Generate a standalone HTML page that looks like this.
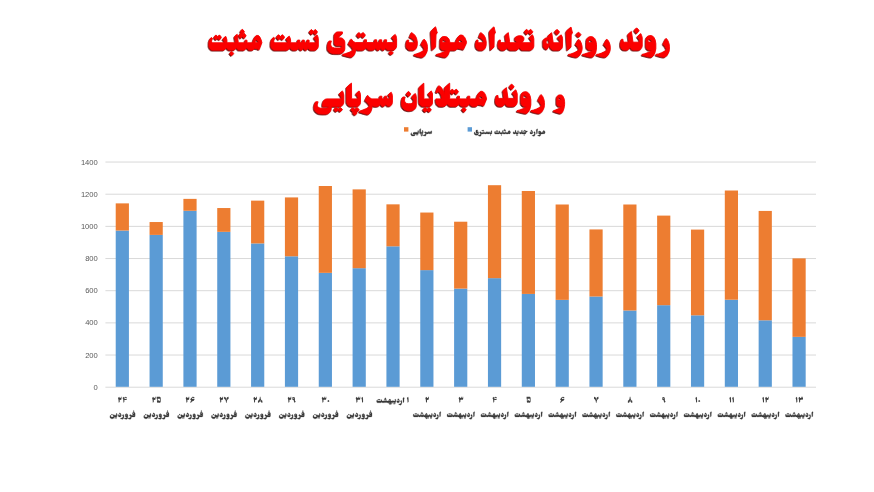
<!DOCTYPE html>
<html lang="fa"><head><meta charset="utf-8"><title>chart</title><style>
html,body{margin:0;padding:0;background:#fff}
body{width:874px;height:492px;position:relative;overflow:hidden;font-family:"Liberation Sans",sans-serif}
.yl{position:absolute;left:40px;width:57.8px;text-align:right;font-size:7.6px;line-height:12px;color:#595959;opacity:.999;will-change:opacity}
svg{position:absolute;left:0;top:0}
</style></head><body>
<svg width="874" height="492" viewBox="0 0 874 492">
<defs>
<filter id="sh" x="-5%" y="-20%" width="110%" height="140%"><feDropShadow dx="-0.8" dy="0.9" stdDeviation="0.35" flood-color="#6a0000" flood-opacity="1"/></filter>
<path id="fv" d="M-8.07 0.88 -8.07 1.00 -7.53 1.52 -7.40 1.52 -6.92 1.06 -6.41 1.52 -6.28 1.52 -5.70 1.00 -5.70 0.88 -6.28 0.35 -6.41 0.35 -6.89 0.82 -7.40 0.35 -7.53 0.35ZM0.59 -2.63 -0.24 -1.40 0.50 -0.57 0.63 -0.29 0.56 -0.02 0.18 0.35 -0.59 0.85 -1.62 1.31 -2.17 1.43 -2.20 1.65 -1.17 2.05 -0.11 2.33 0.37 2.20 0.82 1.74 1.40 0.32 1.49 -0.88 1.27 -1.74 0.92 -2.33ZM-10.61 -2.97 -11.16 -2.45 -11.16 -2.33 -10.51 -1.80 -9.94 -2.33 -9.94 -2.45 -10.48 -2.97ZM3.71 -3.25 3.13 -3.06 2.81 -2.66 2.71 -2.36 2.71 -0.69 2.94 -0.29 3.26 -0.08 4.41 0.05 3.61 0.66 1.62 1.43 1.62 1.65 3.45 2.23 4.22 2.29 4.67 1.89 5.12 0.91 5.35 -0.14 5.38 -1.40 5.22 -2.20 4.83 -2.88 4.35 -3.19ZM3.23 -2.26 3.42 -2.48 3.71 -2.48 4.54 -1.80 3.45 -1.80 3.23 -2.02ZM-5.67 -3.65 -6.66 -2.97 -6.08 -2.29 -5.99 -1.77 -7.91 -1.77 -8.33 -2.08 -8.52 -2.57 -9.68 -1.68 -9.13 -0.94 -9.07 -0.60 -9.33 -0.29 -9.71 -0.11 -10.84 -0.05 -11.38 -0.23 -11.64 -0.45 -11.77 -0.72 -11.77 -1.16 -11.57 -1.68 -12.22 -1.68 -12.47 -1.22 -12.63 -0.60 -12.60 0.23 -12.31 0.91 -11.93 1.31 -11.45 1.59 -10.80 1.74 -9.81 1.71 -9.17 1.49 -8.65 1.06 -8.36 0.45 -8.30 -0.32 -7.66 -0.02 -6.28 -0.02 -5.83 -0.17 -5.47 -0.51 -5.31 -0.88 -5.31 -2.85ZM-2.91 -4.17 -3.39 -3.10 -2.33 -2.48 -2.07 -2.20 -1.94 -1.83 -3.32 -1.77 -3.64 -2.02 -3.64 -2.42 -4.03 -2.42 -4.32 -1.56 -4.32 -1.00 -4.16 -0.54 -3.84 -0.20 -3.32 -0.02 -2.33 -0.02 -1.85 -0.20 -1.46 -0.66 -1.27 -1.40 -1.30 -2.17 -1.46 -2.76 -1.81 -3.40 -2.42 -3.96ZM12.18 -4.45 11.51 -4.82 10.68 -4.79 10.23 -4.48 10.00 -3.99 9.97 -2.76 10.16 -2.29 10.58 -2.08 11.80 -2.08 11.93 -1.96 11.86 -1.80 8.81 -1.77 8.27 -2.05 7.63 -2.63 6.89 -1.40 8.01 -0.48 8.14 -0.26 8.11 0.02 7.34 0.63 5.31 1.43 5.28 1.65 7.11 2.23 7.85 2.29 8.24 2.02 8.59 1.43 8.88 0.39 8.94 -0.32 9.52 -0.02 11.83 -0.02 12.22 -0.17 12.44 -0.39 12.63 -0.88 12.63 -3.53 12.47 -4.05ZM10.51 -3.87 10.68 -4.05 10.96 -4.08 11.35 -3.87 11.80 -3.40 10.80 -3.37 10.55 -3.53ZM11.12 -6.45 10.58 -5.93 10.58 -5.81 11.12 -5.28 11.25 -5.28 11.83 -5.90 11.25 -6.45Z"/>
<path id="ob" d="M2.86 0.88 2.86 1.00 3.35 1.52 3.46 1.52 3.90 1.06 4.36 1.52 4.47 1.52 4.99 1.00 4.99 0.88 4.47 0.35 4.36 0.35 3.93 0.82 3.46 0.35 3.35 0.35ZM1.13 0.35 0.64 0.88 0.64 1.00 1.13 1.52 1.24 1.52 1.73 1.00 1.73 0.88 1.24 0.35ZM10.65 -2.63 9.90 -1.40 10.57 -0.57 10.68 -0.29 10.62 -0.02 10.28 0.35 9.58 0.85 8.66 1.31 8.17 1.43 8.14 1.65 9.96 2.33 10.45 2.20 10.85 1.74 11.37 0.32 11.46 -0.88 11.26 -1.74 10.94 -2.33ZM5.34 -2.85 4.99 -3.68 4.13 -2.97 4.65 -2.29 4.73 -1.77 2.83 -1.77 2.71 -1.89 2.71 -2.42 2.17 -2.42 2.17 -1.89 2.02 -1.77 0.14 -1.77 0.26 -2.20 0.17 -2.91 -0.26 -3.68 -0.58 -3.68 -1.13 -3.47 -1.53 -3.03 -1.76 -2.57 -1.96 -1.77 -3.44 -1.77 -3.58 -1.89 -3.58 -2.42 -4.13 -2.42 -4.16 -2.05 -4.42 -1.77 -4.76 -1.93 -4.85 -2.42 -5.37 -2.42 -5.43 -1.99 -5.66 -1.77 -5.89 -1.80 -6.03 -1.96 -6.09 -2.42 -6.64 -2.42 -6.64 -1.89 -6.81 -1.77 -8.46 -1.77 -8.57 -1.89 -8.63 -2.73 -8.95 -3.37 -9.79 -2.66 -9.30 -1.99 -9.38 -1.77 -12.79 -1.77 -13.11 -2.02 -13.11 -2.33 -12.79 -2.79 -13.16 -3.10 -13.57 -2.73 -13.83 -2.17 -13.89 -1.00 -13.77 -0.66 -13.45 -0.26 -12.88 -0.02 -9.56 -0.02 -9.09 -0.23 -8.72 -0.79 -8.37 -0.23 -7.91 -0.02 -6.90 -0.08 -6.50 -0.39 -6.35 -0.69 -6.09 -0.14 -5.60 -0.02 -5.28 -0.26 -5.11 -0.72 -4.94 -0.26 -4.76 -0.08 -4.36 -0.02 -4.07 -0.20 -3.90 -0.75 -3.75 -0.42 -3.32 -0.08 -1.93 -0.02 -1.70 0.69 -1.41 1.19 -0.84 1.68 -0.23 1.80 0.12 1.68 0.40 1.19 0.38 0.54 0.17 -0.02 1.91 -0.05 2.25 -0.23 2.60 -0.79 2.97 -0.23 3.44 -0.02 4.47 -0.02 4.99 -0.26 5.34 -0.88ZM-1.41 0.02 -0.55 -0.02 -0.40 0.08 -0.38 0.26 -0.58 0.60 -0.75 0.60 -1.15 0.42ZM-0.32 -2.08 -0.66 -1.77 -1.41 -1.80 -1.10 -2.29 -0.58 -2.51ZM-12.38 -3.13 -11.86 -2.51 -11.75 -2.51 -11.32 -2.97 -10.85 -2.51 -10.74 -2.51 -10.22 -3.06 -10.22 -3.16 -10.74 -3.68 -10.85 -3.68 -11.29 -3.22 -11.75 -3.68 -11.86 -3.68ZM-6.24 -3.56 -5.72 -2.91 -5.17 -3.37 -4.71 -2.91 -4.59 -2.91 -4.07 -3.47 -4.07 -3.56 -4.59 -4.08 -4.71 -4.08 -5.14 -3.62 -5.60 -4.08 -5.74 -4.08ZM7.51 -4.17 7.07 -3.10 8.03 -2.48 8.26 -2.20 8.34 -1.80 7.13 -1.77 6.84 -2.02 6.84 -2.42 6.50 -2.42 6.24 -1.56 6.24 -1.00 6.38 -0.54 6.67 -0.20 7.13 -0.02 8.03 -0.02 8.46 -0.20 8.80 -0.66 8.98 -1.40 8.95 -2.17 8.80 -2.76 8.49 -3.40 7.94 -3.96ZM-5.23 -5.07 -5.72 -4.54 -5.72 -4.42 -5.23 -3.90 -5.11 -3.90 -4.59 -4.42 -4.59 -4.54 -5.11 -5.07ZM13.48 -5.56 12.62 -4.82 12.36 -4.36 12.62 -0.02 13.48 -0.72 13.57 -3.83 13.89 -4.08Z"/>
</defs>
<g>
<rect x="105.40" y="386.70" width="710.60" height="1" fill="#d9d9d9"/>
<rect x="105.40" y="354.53" width="710.60" height="1" fill="#d9d9d9"/>
<rect x="105.40" y="322.37" width="710.60" height="1" fill="#d9d9d9"/>
<rect x="105.40" y="290.20" width="710.60" height="1" fill="#d9d9d9"/>
<rect x="105.40" y="258.04" width="710.60" height="1" fill="#d9d9d9"/>
<rect x="105.40" y="225.87" width="710.60" height="1" fill="#d9d9d9"/>
<rect x="105.40" y="193.71" width="710.60" height="1" fill="#d9d9d9"/>
<rect x="105.40" y="161.54" width="710.60" height="1" fill="#d9d9d9"/>
<rect x="115.72" y="230.55" width="13.2" height="156.25" fill="#5b9bd5"/>
<rect x="115.72" y="203.37" width="13.2" height="27.18" fill="#ed7d31"/>
<rect x="149.56" y="234.90" width="13.2" height="151.90" fill="#5b9bd5"/>
<rect x="149.56" y="222.03" width="13.2" height="12.87" fill="#ed7d31"/>
<rect x="183.40" y="210.77" width="13.2" height="176.03" fill="#5b9bd5"/>
<rect x="183.40" y="198.87" width="13.2" height="11.90" fill="#ed7d31"/>
<rect x="217.23" y="231.84" width="13.2" height="154.96" fill="#5b9bd5"/>
<rect x="217.23" y="208.04" width="13.2" height="23.80" fill="#ed7d31"/>
<rect x="251.07" y="243.42" width="13.2" height="143.38" fill="#5b9bd5"/>
<rect x="251.07" y="200.64" width="13.2" height="42.78" fill="#ed7d31"/>
<rect x="284.91" y="256.29" width="13.2" height="130.51" fill="#5b9bd5"/>
<rect x="284.91" y="197.42" width="13.2" height="58.86" fill="#ed7d31"/>
<rect x="318.75" y="272.85" width="13.2" height="113.95" fill="#5b9bd5"/>
<rect x="318.75" y="186.00" width="13.2" height="86.85" fill="#ed7d31"/>
<rect x="352.59" y="268.19" width="13.2" height="118.61" fill="#5b9bd5"/>
<rect x="352.59" y="189.38" width="13.2" height="78.81" fill="#ed7d31"/>
<rect x="386.42" y="246.31" width="13.2" height="140.49" fill="#5b9bd5"/>
<rect x="386.42" y="204.34" width="13.2" height="41.98" fill="#ed7d31"/>
<rect x="420.26" y="270.12" width="13.2" height="116.68" fill="#5b9bd5"/>
<rect x="420.26" y="212.54" width="13.2" height="57.58" fill="#ed7d31"/>
<rect x="454.10" y="288.61" width="13.2" height="98.19" fill="#5b9bd5"/>
<rect x="454.10" y="221.71" width="13.2" height="66.90" fill="#ed7d31"/>
<rect x="487.94" y="278.16" width="13.2" height="108.64" fill="#5b9bd5"/>
<rect x="487.94" y="185.20" width="13.2" height="92.96" fill="#ed7d31"/>
<rect x="521.78" y="293.92" width="13.2" height="92.88" fill="#5b9bd5"/>
<rect x="521.78" y="190.99" width="13.2" height="102.93" fill="#ed7d31"/>
<rect x="555.61" y="299.87" width="13.2" height="86.93" fill="#5b9bd5"/>
<rect x="555.61" y="204.50" width="13.2" height="95.37" fill="#ed7d31"/>
<rect x="589.45" y="296.49" width="13.2" height="90.31" fill="#5b9bd5"/>
<rect x="589.45" y="229.43" width="13.2" height="67.07" fill="#ed7d31"/>
<rect x="623.29" y="310.48" width="13.2" height="76.32" fill="#5b9bd5"/>
<rect x="623.29" y="204.50" width="13.2" height="105.99" fill="#ed7d31"/>
<rect x="657.13" y="305.18" width="13.2" height="81.62" fill="#5b9bd5"/>
<rect x="657.13" y="215.60" width="13.2" height="89.58" fill="#ed7d31"/>
<rect x="690.97" y="315.31" width="13.2" height="71.49" fill="#5b9bd5"/>
<rect x="690.97" y="229.59" width="13.2" height="85.72" fill="#ed7d31"/>
<rect x="724.80" y="299.71" width="13.2" height="87.09" fill="#5b9bd5"/>
<rect x="724.80" y="190.51" width="13.2" height="109.20" fill="#ed7d31"/>
<rect x="758.64" y="320.30" width="13.2" height="66.50" fill="#5b9bd5"/>
<rect x="758.64" y="210.93" width="13.2" height="109.36" fill="#ed7d31"/>
<rect x="792.48" y="336.86" width="13.2" height="49.94" fill="#5b9bd5"/>
<rect x="792.48" y="258.38" width="13.2" height="78.48" fill="#ed7d31"/>
</g>
<rect x="404" y="127.2" width="4.4" height="4.4" fill="#ed7d31"/>
<rect x="467.6" y="127.2" width="4.4" height="4.4" fill="#5b9bd5"/>
<g fill="#fb0404" stroke="#fb0404" stroke-width="0.9" stroke-linejoin="round" filter="url(#sh)"><path d="M231.4 51.4 229.8 53.2 229.8 53.6 231.3 55.4 231.8 55.5 233.6 53.7 233.6 53.2 231.8 51.4ZM214.1 37.3 214.1 37.5 215.8 39.8 216.2 39.8 217.6 37.9 219.2 39.8 219.6 39.8 221.3 37.5 221.3 37.1 219.6 35.0 219.2 35.0 217.7 36.9 216.2 35.0 215.8 35.0ZM261.9 42.6 261.1 39.7 260.0 37.3 259.0 36.0 258.4 35.5 256.7 35.4 255.8 35.9 255.0 37.0 253.9 38.9 253.1 41.1 253.0 42.8 247.4 42.8 247.0 42.2 247.0 40.2 245.1 40.2 245.1 42.3 244.7 42.8 238.9 42.8 238.2 42.1 237.2 34.2 234.6 36.6 235.5 42.7 235.4 42.8 227.1 42.7 226.9 42.3 226.9 40.1 226.7 38.9 226.1 37.1 225.6 36.2 222.8 39.2 223.8 40.6 224.4 42.0 224.4 42.5 224.2 42.8 212.7 42.8 212.1 42.6 211.6 41.8 211.6 40.6 212.1 39.4 212.7 38.7 211.4 37.4 210.1 38.9 209.2 41.2 209.0 42.3 209.0 46.0 209.4 47.4 210.5 49.1 211.2 49.7 212.4 50.1 223.6 50.1 225.1 49.2 225.7 48.4 226.4 46.9 226.8 48.1 227.6 49.2 229.1 50.1 234.0 50.0 235.1 49.2 235.8 48.3 236.3 47.0 236.5 47.2 236.9 48.3 237.6 49.2 238.7 50.0 243.9 50.1 245.4 49.2 246.2 48.1 246.7 46.9 247.4 48.6 247.9 49.2 248.7 49.8 249.4 50.1 252.2 50.1 253.5 49.5 254.3 48.2 257.3 48.8 259.2 49.6ZM255.2 40.7 255.8 39.9 256.7 39.9 257.8 40.8 259.1 42.7 255.9 42.7 255.5 42.5 255.2 42.0ZM238.7 35.5 238.7 35.9 240.6 38.2 240.8 38.2 242.4 36.1 244.0 38.2 244.2 38.2 246.0 35.9 246.0 35.5 244.2 33.2 244.0 33.2 242.4 35.2 240.8 33.2 240.6 33.2ZM242.1 29.3 240.5 31.4 240.5 31.8 242.2 34.1 242.5 34.1 244.3 31.9 244.3 31.4 242.5 29.3ZM318.3 38.7 317.9 36.7 317.0 34.8 313.9 37.8 315.7 40.5 316.1 41.7 316.1 42.8 309.6 42.8 309.1 42.3 309.1 40.1 307.0 40.1 306.9 41.6 306.7 42.1 306.0 42.8 305.4 42.8 304.7 42.1 304.3 41.1 304.3 40.1 302.4 40.1 302.2 41.9 301.4 42.8 300.5 42.6 300.0 42.0 299.8 41.4 299.8 40.1 297.7 40.1 297.7 42.3 297.1 42.8 291.0 42.8 290.6 42.3 290.6 40.0 290.4 38.8 289.7 37.0 289.2 36.1 286.1 39.1 287.1 40.5 287.9 41.9 287.9 42.4 287.6 42.8 275.0 42.8 274.3 42.5 273.8 41.7 273.8 40.5 274.3 39.3 275.0 38.5 273.6 37.3 272.1 38.8 271.1 41.1 270.9 42.3 270.9 46.0 271.3 47.4 272.5 49.1 273.4 49.7 274.6 50.1 286.9 50.1 288.6 49.2 289.3 48.4 290.0 46.9 290.5 48.0 291.3 49.2 293.0 50.1 295.8 50.1 296.8 49.8 297.7 49.2 298.3 48.5 298.8 47.3 299.0 47.4 299.1 48.4 299.8 49.6 300.3 50.0 301.6 50.1 302.1 49.8 302.7 49.1 303.4 47.1 304.0 49.1 304.7 49.8 305.2 50.1 306.2 50.1 307.2 49.3 307.7 48.3 307.9 47.0 308.4 48.4 309.2 49.3 310.0 49.8 310.9 50.1 315.0 50.1 316.2 49.7 316.7 49.3 318.0 47.5 318.3 46.2ZM276.5 37.1 276.5 37.4 278.4 39.7 278.8 39.7 280.4 37.8 282.1 39.7 282.6 39.7 284.5 37.4 284.5 37.0 282.6 34.8 282.1 34.8 280.5 36.7 278.8 34.8 278.4 34.8ZM309.4 31.7 309.4 32.1 311.2 34.4 311.6 34.4 313.3 32.5 315.0 34.4 315.5 34.4 317.4 32.1 317.3 31.6 315.5 29.6 315.0 29.6 313.4 31.5 311.6 29.6 311.2 29.6ZM390.8 51.2 388.9 52.7 388.9 53.1 390.7 54.6 391.2 54.6 393.3 53.0 393.3 52.8 391.3 51.2ZM396.4 37.3 396.0 35.8 395.2 34.4 391.8 37.4 393.6 39.8 394.2 41.6 394.1 42.6 387.3 42.6 386.8 42.3 386.6 41.8 386.6 39.8 384.4 39.8 384.5 40.8 384.3 41.6 383.8 42.3 383.4 42.6 382.5 42.4 381.9 41.8 381.7 41.0 381.7 39.8 379.5 39.8 379.5 41.2 379.3 41.8 378.5 42.6 377.9 42.6 377.1 42.0 376.8 41.2 376.6 39.8 374.6 39.8 374.6 41.9 374.4 42.3 373.9 42.6 366.9 42.6 366.5 42.0 366.5 39.8 364.3 39.8 364.3 42.0 363.6 42.6 355.3 42.6 353.3 41.4 351.2 38.9 348.4 44.0 351.2 46.5 352.5 48.2 352.9 49.0 352.9 50.0 352.6 50.4 351.7 51.1 350.0 52.0 345.6 53.6 342.8 54.4 342.7 55.0 349.2 56.7 350.7 57.0 351.8 56.9 352.5 56.6 353.3 56.0 354.4 54.6 355.3 52.3 355.7 48.8 356.5 49.6 357.8 50.1 362.7 50.1 363.6 49.8 364.9 48.9 365.7 47.7 366.0 46.8 366.7 48.2 367.6 49.3 369.3 50.1 372.5 50.1 373.6 49.8 374.6 49.2 375.2 48.5 375.7 47.0 376.2 48.8 376.9 49.7 377.3 50.0 378.7 50.1 379.4 49.7 380.1 48.8 380.6 47.0 380.9 48.1 381.7 49.6 382.6 50.1 383.6 50.1 384.6 49.4 385.1 48.5 385.4 46.9 386.2 48.8 387.2 49.6 388.0 50.0 393.7 50.0 395.0 49.2 395.8 48.2 396.4 47.0 396.6 45.7 396.6 38.7ZM356.8 34.9 356.8 35.3 358.8 37.7 359.3 37.5 361.0 35.6 362.7 37.5 363.2 37.7 365.2 35.4 365.2 34.8 363.2 32.5 362.7 32.7 361.0 34.6 359.3 32.7 358.8 32.5ZM342.4 31.9 338.0 31.9 336.8 32.1 335.8 32.7 335.2 33.5 334.7 34.2 334.4 35.7 334.4 43.1 334.7 44.1 335.3 44.9 336.2 45.5 342.0 45.6 342.0 46.5 341.1 47.6 340.1 48.0 334.5 48.0 332.6 47.4 331.3 46.3 330.7 44.9 330.7 43.2 331.0 41.9 331.5 41.0 329.1 41.0 328.8 41.5 328.2 43.0 327.6 45.5 327.7 48.9 328.1 50.2 329.1 51.6 330.0 52.3 331.3 52.9 332.8 53.4 334.7 53.6 339.5 53.6 341.7 53.1 342.9 52.4 343.8 51.5 344.4 50.6 344.8 48.9 344.8 42.0 344.5 40.8 343.7 39.4 342.2 38.2 341.2 37.9 338.0 37.8 340.0 35.3 342.5 33.5ZM424.1 39.1 423.7 39.6 421.1 44.3 421.1 44.5 422.1 45.6 423.8 47.8 424.2 48.9 424.2 49.6 424.0 50.1 422.5 51.3 419.8 52.7 416.0 54.1 414.1 54.5 414.2 55.2 418.0 56.5 421.6 57.2 422.6 57.1 423.3 56.8 424.4 56.1 425.0 55.4 426.2 53.3 427.1 51.1 427.4 49.4 427.4 46.3 427.1 44.3 426.6 42.8 425.7 40.9ZM464.8 37.6 464.2 36.7 463.0 35.6 462.0 35.1 460.3 35.1 458.9 36.0 457.1 38.6 456.1 40.6 455.9 42.7 450.0 42.7 449.4 40.2 448.9 38.9 447.9 37.8 447.1 37.1 445.2 36.5 443.1 36.6 441.9 37.1 440.9 38.3 440.3 40.0 440.2 46.7 440.4 47.8 440.8 48.5 441.6 49.4 442.5 50.0 446.5 50.2 445.3 51.2 443.9 52.0 439.7 53.6 436.3 54.5 436.3 55.1 443.3 57.0 445.8 57.1 447.1 56.3 448.3 54.5 449.2 52.0 449.6 50.1 455.1 50.1 456.7 49.3 457.5 48.1 461.0 48.8 463.0 49.3 463.4 49.6 466.5 42.8 466.5 42.2 466.1 40.6ZM458.6 40.6 459.3 39.7 460.3 39.7 462.1 41.0 463.4 42.6 459.4 42.6 458.6 41.7ZM442.2 40.5 442.9 39.7 443.9 39.7 445.2 40.6 446.9 42.6 443.0 42.6 442.5 42.3 442.2 41.8ZM411.5 32.6 409.6 37.1 411.4 38.0 413.4 39.6 414.4 40.9 414.9 42.4 414.6 42.7 409.8 42.7 409.3 42.4 408.7 41.7 408.7 40.0 407.3 40.0 406.3 43.0 406.2 45.8 406.8 47.9 408.0 49.3 409.8 50.1 413.5 50.1 415.2 49.3 416.4 47.9 417.2 45.3 417.3 41.9 416.5 38.2 415.3 35.8 413.6 33.9ZM435.6 26.8 432.7 29.4 431.5 30.7 431.0 31.8 431.0 34.0 432.1 50.1 435.6 47.1 436.0 34.0 437.3 33.0ZM498.1 43.9 498.1 45.7 498.7 48.0 500.0 49.4 501.5 50.1 503.9 50.1 504.7 49.8 505.7 49.2 506.5 48.3 507.0 46.8 507.7 48.3 508.5 49.2 510.3 50.1 516.1 50.1 517.0 49.8 518.3 48.8 519.3 46.8 520.0 48.3 520.9 49.3 522.1 50.0 530.4 50.1 532.2 49.3 533.2 48.1 533.6 47.1 533.8 46.1 533.8 38.7 533.4 36.6 532.4 34.7 529.2 37.6 531.1 40.4 531.5 41.7 531.5 42.7 522.2 42.7 522.1 42.6 523.2 40.9 523.8 39.5 523.9 38.0 523.7 37.4 523.2 36.7 522.1 36.1 520.9 35.8 518.5 35.8 516.8 36.4 515.1 37.5 515.1 40.4 516.2 40.9 517.1 42.1 517.3 42.6 517.2 42.7 510.5 42.7 509.6 41.7 508.3 32.6 505.1 35.4 506.2 42.6 506.0 42.7 501.2 42.6 500.6 42.1 500.4 41.5 500.4 40.0 499.2 40.0 498.9 40.6ZM480.7 32.6 478.9 37.1 480.6 38.0 482.5 39.6 483.5 40.9 483.9 42.4 483.7 42.7 479.1 42.7 478.6 42.4 478.0 41.7 478.0 40.0 476.7 40.0 475.8 43.0 475.7 45.8 476.3 47.9 477.4 49.3 479.1 50.1 482.6 50.1 484.2 49.3 485.3 47.9 486.1 45.3 486.2 41.9 485.5 38.2 484.3 35.8 482.7 33.9ZM524.5 31.6 524.7 32.2 526.4 34.3 526.9 34.3 528.6 32.3 530.4 34.3 530.9 34.3 532.8 31.9 532.8 31.7 530.9 29.4 530.4 29.4 528.8 31.3 526.9 29.4 526.4 29.4ZM494.0 26.8 490.2 30.4 489.8 31.3 489.5 32.3 490.7 50.0 494.0 47.0 494.2 34.1 495.4 33.0 495.4 32.5ZM606.9 39.2 606.6 39.3 603.8 44.4 605.2 46.0 606.8 48.2 607.0 48.8 607.0 49.6 606.8 50.1 605.8 50.9 604.7 51.6 601.6 53.1 598.7 54.1 596.6 54.4 596.7 55.2 601.0 56.5 604.3 57.1 604.9 57.1 605.9 56.8 607.2 55.9 607.8 55.3 608.9 53.5 609.7 51.6 610.1 50.4 610.3 47.9 610.1 45.3 609.3 42.5 608.2 40.6ZM578.6 39.2 575.5 44.4 577.4 46.5 578.6 48.3 578.9 49.3 578.5 50.2 577.3 51.1 574.1 52.8 570.8 54.0 568.5 54.4 568.4 55.1 571.8 56.2 574.3 56.8 576.1 57.1 577.1 57.0 578.0 56.6 579.7 55.2 580.9 53.1 581.6 51.4 582.1 49.1 582.1 46.7 581.8 45.1 581.2 43.0 580.2 40.8ZM589.5 36.7 588.2 37.4 587.3 38.3 586.9 39.3 586.5 41.5 586.6 47.3 587.3 48.8 587.8 49.3 588.9 50.0 592.8 50.1 592.9 50.3 591.7 51.2 589.5 52.3 584.2 54.1 582.6 54.4 582.6 55.1 588.9 56.7 590.3 57.0 592.2 57.0 592.7 56.8 593.8 55.9 594.8 54.3 595.6 52.8 596.4 49.2 596.5 44.7 595.9 41.1 594.7 38.5 593.6 37.4 592.7 36.9 591.7 36.6ZM588.5 40.6 589.2 39.8 590.3 39.8 591.6 40.7 593.3 42.6 589.4 42.6 588.5 41.9ZM543.4 40.2 543.2 41.1 543.3 46.2 543.9 47.5 544.8 48.4 545.7 48.9 547.1 49.2 549.5 44.9 549.8 45.3 550.1 47.0 551.0 48.5 551.9 49.4 553.6 50.1 558.9 50.1 559.9 49.8 560.9 49.3 561.9 48.2 562.5 46.7 562.6 38.8 562.2 36.7 561.2 34.8 557.6 37.8 559.7 40.5 560.1 41.7 560.1 42.8 553.9 42.8 553.2 42.1 553.0 41.5 551.7 32.7 548.2 35.6 548.5 37.1 548.3 37.5 546.0 38.0 544.9 38.5 543.8 39.6ZM547.0 39.9 548.0 39.6 548.5 39.6 548.8 39.8 549.4 43.1 549.3 43.9 547.4 43.9 546.5 43.4 546.2 42.9 546.0 42.0 546.2 40.8ZM578.3 32.2 576.2 34.4 576.2 34.8 578.4 37.1 578.6 37.1 580.9 34.8 580.9 34.4 578.7 32.2ZM556.8 29.5 554.8 31.7 554.8 32.1 556.8 34.4 557.3 34.4 559.4 32.1 559.4 31.7 557.3 29.5ZM571.0 27.0 566.8 30.7 566.5 31.3 566.2 32.4 567.3 50.0 567.5 50.0 571.0 47.0 571.2 34.3 572.5 33.1ZM666.1 38.3 665.4 39.3 663.1 43.9 663.1 44.1 665.1 46.5 665.9 47.9 666.3 48.8 666.3 49.5 666.0 50.1 664.6 51.2 661.8 52.7 658.6 53.9 656.0 54.4 655.9 55.1 659.7 56.3 663.5 57.1 664.6 57.0 665.3 56.7 666.3 56.1 667.0 55.4 667.9 53.9 669.0 51.5 669.4 49.3 669.4 46.2 669.1 44.0 668.5 42.1 667.6 40.1ZM649.6 35.6 648.2 36.0 647.4 36.5 646.9 37.1 646.3 38.3 646.0 40.0 646.0 46.6 646.6 48.4 648.0 49.8 648.8 50.1 652.3 50.2 651.3 51.1 649.5 52.0 644.9 53.7 642.1 54.4 642.0 55.1 648.7 56.8 649.8 57.0 651.6 57.0 652.2 56.7 653.3 55.7 654.2 54.2 654.9 52.7 655.8 48.7 655.8 43.3 655.1 39.7 654.0 37.5 653.2 36.5 652.3 36.0 651.2 35.6ZM648.0 39.7 648.7 39.0 649.8 39.0 651.3 40.3 652.7 42.1 648.8 42.1 648.3 41.8 647.9 41.0ZM620.5 43.2 620.6 46.2 621.3 48.1 622.3 49.3 623.6 49.9 626.6 50.1 627.8 49.7 629.1 48.6 630.1 46.6 631.0 48.6 632.3 49.7 633.5 50.1 638.5 50.1 639.8 49.7 641.0 48.7 641.7 47.6 642.2 46.1 642.2 37.6 641.7 35.7 640.8 33.6 637.3 36.8 639.1 39.4 639.7 41.1 639.7 42.2 633.7 42.2 632.9 41.5 631.4 31.4 627.9 34.5 629.0 41.7 628.9 42.2 624.2 42.2 623.6 41.9 623.0 41.1 623.0 39.3 621.6 39.3ZM636.4 28.0 634.4 30.3 634.4 30.7 636.4 33.2 636.9 33.2 639.0 30.7 639.0 30.3 637.1 28.1ZM354.7 111.0 352.8 112.7 352.8 113.2 354.7 114.9 355.2 114.9 357.1 113.2 357.1 112.7 355.1 111.0ZM350.8 109.5 350.8 109.9 352.8 111.7 353.6 111.3 354.9 110.1 355.1 110.1 356.8 111.7 357.0 111.7 359.2 109.9 359.2 109.5 357.2 107.7 356.7 107.7 355.0 109.3 353.2 107.7 352.7 107.7ZM334.0 109.3 334.0 109.7 335.9 111.5 336.3 111.5 338.2 109.9 340.0 111.5 340.4 111.5 342.4 109.7 342.4 109.3 340.4 107.5 340.0 107.5 338.2 109.1 336.3 107.5 335.9 107.5ZM391.2 92.2 388.2 94.8 389.2 96.1 389.6 97.3 389.6 97.9 389.4 98.4 388.6 98.9 387.9 98.9 387.1 98.3 386.9 97.6 386.8 96.2 384.7 96.2 384.6 97.8 384.4 98.3 383.6 98.9 382.7 98.8 382.2 98.3 381.9 97.3 381.9 96.2 379.8 96.2 379.8 98.2 379.7 98.5 379.2 98.9 371.8 98.9 369.8 97.8 367.6 95.3 365.0 100.5 366.9 102.0 368.9 104.4 369.4 105.3 369.4 106.2 369.2 106.6 367.8 107.7 366.6 108.5 362.9 110.0 359.4 111.2 359.3 111.9 364.2 113.4 366.7 114.1 367.9 114.2 369.1 113.8 370.1 112.7 371.1 111.0 371.9 108.3 372.2 105.0 373.0 105.8 374.3 106.3 377.3 106.3 378.6 105.9 379.3 105.4 379.8 104.6 380.3 103.2 381.0 105.1 381.4 105.6 382.3 106.2 383.7 106.3 384.3 106.0 385.1 105.1 385.7 103.2 386.4 104.9 387.4 105.8 388.1 106.0 389.7 106.0 390.7 105.6 391.8 104.5 392.2 103.4 392.4 102.3 392.4 95.8 392.0 93.9ZM342.6 91.2 342.4 90.9 339.1 93.9 340.8 96.2 341.5 98.0 341.3 98.9 326.7 98.9 325.3 99.3 324.3 100.0 323.5 101.0 323.0 102.4 322.7 103.6 322.7 106.3 328.6 106.3 328.7 106.4 328.4 107.2 327.3 108.1 320.7 108.2 319.1 107.7 317.6 106.6 317.3 105.8 317.3 104.1 318.1 101.8 315.7 101.8 314.7 104.1 314.2 106.3 314.3 109.1 314.8 110.2 315.5 111.3 316.4 112.2 317.5 112.9 319.5 113.7 322.5 114.0 326.5 113.9 327.6 113.6 329.0 112.8 330.3 111.5 331.1 109.7 331.4 106.3 340.3 106.3 342.1 105.5 343.3 104.1 343.6 103.3 343.8 102.0 343.8 95.1 343.5 93.3ZM351.5 83.1 346.7 87.3 346.8 102.7 347.5 104.2 348.5 105.4 350.0 106.2 357.6 106.2 358.5 105.8 359.5 104.9 360.0 104.2 360.5 102.5 360.5 94.5 360.3 93.5 359.7 92.0 359.1 90.9 355.8 93.9 357.5 96.1 358.2 97.8 358.2 98.9 352.0 98.9 351.6 98.4ZM463.8 107.6 461.9 109.5 461.9 110.0 463.8 111.9 464.2 111.9 466.1 110.0 466.1 109.5 464.2 107.6ZM423.1 109.5 423.1 110.0 424.9 111.9 425.4 111.9 427.1 110.2 428.9 111.9 429.3 111.9 431.2 110.0 431.2 109.5 429.3 107.6 428.9 107.6 427.2 109.3 425.4 107.6 424.9 107.6ZM415.4 93.6 415.1 93.6 411.7 96.9 411.7 97.1 413.7 100.2 413.8 101.4 413.0 102.7 411.8 103.4 411.0 103.7 408.1 103.8 406.4 103.3 405.7 102.8 404.9 101.9 404.5 100.2 404.7 98.5 405.2 97.0 402.9 97.0 402.0 99.2 401.7 100.6 401.6 104.2 402.0 106.3 402.6 107.4 403.8 108.9 404.9 109.7 406.6 110.3 408.3 110.7 410.2 110.7 411.7 110.4 413.2 110.0 414.3 109.3 415.4 108.2 416.0 107.0 416.3 105.6 416.3 96.9 415.9 94.8ZM408.4 91.4 406.4 93.8 406.4 94.2 408.3 96.4 408.8 96.4 410.7 94.2 410.7 93.8 408.9 91.6ZM450.2 91.3 450.2 92.0 452.2 94.2 452.4 94.2 454.3 92.1 456.1 94.2 456.3 94.2 458.4 91.8 458.4 91.4 456.3 89.1 456.1 89.1 454.3 91.2 452.4 89.1 452.2 89.1ZM435.9 92.1 437.0 92.7 437.2 92.7 437.8 92.0 438.2 91.7 438.8 91.7 439.4 92.1 440.8 94.0 441.5 96.1 442.0 98.5 441.9 98.9 435.9 98.9 436.0 101.9 436.8 104.1 437.5 105.0 438.1 105.5 439.4 106.2 440.2 106.3 443.0 106.3 444.7 105.9 446.1 105.1 446.8 104.2 447.4 103.1 447.8 104.2 448.6 105.3 449.7 106.0 450.5 106.3 456.4 106.2 457.7 105.4 458.4 104.6 459.1 103.1 459.6 104.2 460.5 105.4 461.5 106.0 462.3 106.3 466.3 106.3 467.1 106.0 468.1 105.4 468.6 104.7 469.4 103.1 469.6 103.2 470.1 104.6 470.8 105.4 472.6 106.3 476.2 106.2 477.2 105.6 478.1 104.4 481.5 105.0 483.7 105.8 486.6 98.9 485.7 95.4 484.6 93.3 483.5 92.0 482.2 91.3 480.8 91.3 480.2 91.6 478.8 93.0 477.4 95.3 477.0 96.4 476.6 97.8 476.6 98.9 470.3 98.9 469.8 98.4 469.8 96.2 467.7 96.2 467.7 98.4 467.2 98.9 459.9 98.9 459.5 98.3 459.5 96.2 457.5 96.2 457.5 98.0 457.4 98.4 456.8 98.9 450.1 98.9 449.7 98.5 449.7 83.1 444.8 87.5 444.7 95.7 444.1 92.9 442.7 89.6 441.1 87.2 439.3 85.9 438.7 85.9 438.1 86.4ZM479.2 96.7 479.8 96.0 481.0 96.1 482.0 96.9 483.6 98.8 479.9 98.8 479.5 98.5 479.1 97.8ZM423.8 83.1 419.1 87.5 419.1 101.3 419.3 102.8 419.9 104.1 420.4 104.9 421.5 105.8 422.4 106.2 429.8 106.2 431.0 105.5 432.0 104.4 432.5 102.9 432.5 94.0 432.2 92.9 431.3 90.9 428.0 93.9 429.9 96.6 430.3 97.9 430.3 98.9 424.4 98.9 423.9 98.4ZM541.1 94.5 540.4 95.5 538.1 100.1 538.1 100.3 540.1 102.7 540.9 104.1 541.3 105.0 541.3 105.7 541.0 106.3 539.6 107.4 536.8 108.9 533.6 110.1 531.0 110.6 530.9 111.3 534.7 112.5 538.5 113.3 539.6 113.2 540.3 112.9 541.3 112.3 542.0 111.6 542.9 110.1 544.0 107.7 544.4 105.5 544.4 102.4 544.1 100.2 543.5 98.3 542.6 96.3ZM524.6 91.8 523.2 92.2 522.4 92.7 521.9 93.3 521.3 94.5 521.0 96.2 521.0 102.8 521.6 104.6 523.0 106.0 523.8 106.3 527.3 106.4 526.3 107.3 524.5 108.2 519.9 109.9 517.1 110.6 517.0 111.3 523.7 113.0 524.8 113.2 526.6 113.2 527.2 112.9 528.3 111.9 529.2 110.4 529.9 108.9 530.8 104.9 530.8 99.5 530.1 95.9 529.0 93.7 528.2 92.7 527.3 92.2 526.2 91.8ZM523.0 95.9 523.7 95.2 524.8 95.2 526.3 96.5 527.7 98.3 523.8 98.3 523.3 98.0 522.9 97.2ZM495.5 99.4 495.6 102.4 496.3 104.3 497.3 105.5 498.6 106.1 501.6 106.3 502.8 105.9 504.1 104.8 505.1 102.8 506.0 104.8 507.3 105.9 508.5 106.3 513.5 106.3 514.8 105.9 516.0 104.9 516.7 103.8 517.2 102.3 517.2 93.8 516.7 91.9 515.8 89.8 512.3 93.0 514.1 95.6 514.7 97.3 514.7 98.4 508.7 98.4 507.9 97.7 506.4 87.6 502.9 90.7 504.0 97.9 503.9 98.4 499.2 98.4 498.6 98.1 498.0 97.3 498.0 95.5 496.6 95.5ZM511.4 84.2 509.4 86.5 509.4 86.9 511.4 89.4 511.9 89.4 514.0 86.9 514.0 86.5 512.1 84.3ZM559.0 95.0 558.0 95.5 557.3 96.3 557.0 97.1 556.8 97.9 556.8 103.9 557.3 105.2 557.7 105.6 558.6 106.2 561.7 106.3 561.7 106.5 560.4 107.7 558.8 108.6 554.9 110.3 553.6 110.6 553.6 111.3 558.6 112.9 560.5 113.3 561.6 113.0 562.1 112.5 562.7 111.6 563.4 110.1 564.4 106.4 564.6 104.3 564.6 101.7 564.1 98.7 563.1 96.5 562.3 95.5 561.6 95.1 560.8 94.9ZM558.3 98.2 558.8 97.6 559.7 97.6 560.6 98.2 562.0 100.0 558.9 100.0 558.3 99.3Z"/></g>
<g fill="#383838" stroke="#383838" stroke-width="0.2" stroke-linejoin="round">
<path d="M421.63 135.21 421.11 135.71 421.11 135.86 421.63 136.33 421.75 136.33 422.27 135.86 422.27 135.71ZM420.56 134.80 420.56 134.92 421.11 135.42 421.66 134.98 422.24 135.42 422.82 134.92 422.82 134.80 422.31 134.30 422.15 134.30 421.69 134.74 421.20 134.30 421.08 134.30ZM416.04 134.74 416.04 134.86 416.56 135.36 416.68 135.36 417.17 134.92 417.66 135.36 417.78 135.36 418.30 134.86 418.30 134.74 417.78 134.24 417.57 134.30 417.17 134.68 416.68 134.24 416.56 134.24ZM431.45 130.67 430.65 131.26 431.02 131.82 430.96 132.09 430.75 132.20 430.56 132.20 430.35 132.06 430.26 131.58 429.71 131.58 429.67 131.94 429.40 132.20 429.15 132.17 429.03 132.06 428.94 131.58 428.39 131.58 428.39 132.03 428.21 132.20 426.22 132.20 425.70 131.94 425.09 131.38 424.38 132.56 425.45 133.44 425.58 133.65 425.52 133.97 424.81 134.50 422.89 135.27 422.86 135.48 424.84 136.10 425.18 136.13 425.49 136.01 426.04 135.21 426.25 134.45 426.34 133.59 426.89 133.89 427.72 133.89 428.24 133.68 428.51 133.18 428.82 133.74 429.43 133.89 429.80 133.62 429.98 133.18 430.16 133.56 430.44 133.77 431.05 133.83 431.33 133.74 431.60 133.47 431.78 132.97 431.78 131.50ZM418.36 130.43 418.21 130.43 417.41 131.05 417.87 131.58 418.05 132.00 418.02 132.20 414.08 132.20 413.44 132.44 413.07 133.00 413.01 133.89 414.60 133.89 414.54 134.15 414.23 134.39 412.46 134.42 412.03 134.30 411.63 133.97 411.54 133.77 411.54 133.38 411.75 132.85 411.11 132.85 410.84 133.38 410.72 133.89 410.75 134.68 411.05 135.30 411.60 135.77 412.15 135.98 412.95 136.07 414.02 136.04 414.69 135.74 415.06 135.36 415.27 134.86 415.33 133.89 417.75 133.89 418.24 133.71 418.54 133.38 418.70 132.91 418.70 131.32 418.60 130.91ZM420.75 128.58 419.46 129.55 419.49 133.06 419.68 133.41 419.95 133.68 420.35 133.86 422.40 133.86 422.92 133.56 423.19 133.03 423.13 130.96 422.79 130.37 421.91 131.05 422.37 131.55 422.55 131.94 422.55 132.20 420.90 132.20 420.78 132.09Z"/>
<path d="M524.07 134.44 523.63 134.89 523.57 135.07 524.07 135.59 524.19 135.59 524.72 135.07 524.72 134.95 524.19 134.44ZM515.96 134.95 515.96 135.07 516.46 135.59 516.58 135.59 517.02 135.13 517.50 135.59 517.62 135.59 518.15 135.07 518.15 134.95 517.62 134.44 517.50 134.44 517.05 134.89 516.58 134.44 516.46 134.44ZM501.33 134.44 500.83 134.95 500.83 135.07 501.33 135.59 501.45 135.59 501.98 134.98 501.45 134.44ZM490.49 134.44 489.99 134.95 489.99 135.07 490.58 135.59 491.14 134.98 490.61 134.44ZM534.47 131.53 533.70 132.73 534.38 133.54 534.50 133.81 534.44 134.09 534.08 134.44 533.37 134.92 532.42 135.38 531.92 135.50 531.89 135.70 532.84 136.09 533.81 136.36 534.26 136.25 534.67 135.79 535.21 134.41 535.29 133.25 535.06 132.34 534.76 131.84ZM544.74 131.20 544.30 130.72 544.03 130.60 543.62 130.60 543.26 130.81 542.79 131.41 542.52 131.98 542.49 132.38 541.01 132.38 540.74 131.56 540.27 131.09 539.80 130.94 539.26 130.97 538.97 131.09 538.70 131.35 538.52 131.89 538.58 133.54 538.88 133.94 539.11 134.06 540.12 134.11 539.47 134.69 537.55 135.50 537.52 135.70 539.32 136.31 539.94 136.34 540.24 136.09 540.54 135.56 540.89 134.09 542.28 134.09 542.70 133.91 542.88 133.63 544.39 133.97 545.19 132.41 545.07 131.89ZM543.17 131.89 543.35 131.69 543.62 131.69 544.06 131.98 544.39 132.34 543.38 132.34 543.17 132.13ZM539.03 131.86 539.20 131.69 539.47 131.69 539.80 131.89 540.21 132.34 539.23 132.34 539.00 132.10ZM496.03 131.03 496.03 131.14 496.53 131.66 496.65 131.66 497.12 131.20 497.60 131.66 497.72 131.66 498.22 131.14 498.22 131.03 497.72 130.51 497.60 130.51 497.15 130.97 496.65 130.51 496.53 130.51ZM491.94 131.17 491.62 130.51 490.76 131.20 491.20 131.75 491.38 132.16 491.35 132.38 489.57 132.38 489.39 132.19 489.39 131.75 488.83 131.75 488.80 132.16 488.57 132.38 488.33 132.34 488.18 132.19 488.12 131.75 487.56 131.75 487.56 132.07 487.29 132.38 486.94 132.25 486.82 131.75 486.29 131.75 486.29 132.22 486.11 132.38 484.30 132.38 484.18 132.25 484.18 131.75 483.62 131.75 483.62 132.25 483.44 132.38 481.28 132.38 480.78 132.10 480.22 131.53 479.50 132.70 480.57 133.66 480.66 133.84 480.60 134.17 479.92 134.72 478.05 135.50 478.02 135.70 479.71 136.28 480.39 136.34 480.78 136.03 481.04 135.59 481.28 134.81 481.40 133.78 481.93 134.09 483.21 134.09 483.77 133.81 484.06 133.34 484.48 133.91 484.92 134.09 486.02 134.03 486.43 133.72 486.58 133.39 486.70 133.78 487.00 134.06 487.35 134.09 487.53 134.00 487.86 133.39 488.12 133.97 488.36 134.09 488.63 134.09 488.89 133.94 489.10 133.36 489.31 133.78 489.75 134.06 491.23 134.06 491.59 133.88 491.94 133.39ZM510.60 132.34 510.36 131.66 510.01 131.03 509.59 130.66 509.00 130.60 508.44 131.06 508.08 131.56 507.90 132.01 507.87 132.38 506.19 132.38 506.07 132.25 506.07 131.75 505.50 131.75 505.50 132.25 505.33 132.38 503.61 132.38 503.37 132.16 503.05 130.34 502.31 130.91 502.51 132.38 500.03 132.38 499.91 132.16 499.88 131.47 499.55 130.81 498.69 131.50 499.20 132.16 499.08 132.38 495.58 132.38 495.32 132.22 495.26 131.92 495.41 131.59 495.61 131.41 495.20 131.09 494.84 131.38 494.58 131.86 494.46 132.41 494.46 132.97 494.55 133.36 494.78 133.72 495.17 134.00 495.52 134.09 498.90 134.09 499.46 133.81 499.76 133.34 500.17 133.91 500.62 134.09 501.95 134.09 502.25 134.00 502.60 133.72 502.81 133.34 503.08 133.78 503.67 134.09 505.24 134.06 505.68 133.78 505.95 133.34 506.13 133.66 506.51 134.00 506.81 134.09 507.67 134.09 508.05 133.94 508.29 133.63 509.80 133.94ZM508.55 131.89 508.73 131.69 509.00 131.69 509.41 131.95 509.77 132.34 508.79 132.34 508.58 132.19ZM503.55 130.63 504.08 131.26 504.65 130.78 505.21 131.26 505.74 130.75 505.74 130.60 505.21 130.09 504.65 130.57 504.08 130.09ZM481.67 130.63 482.20 131.26 482.76 130.78 483.32 131.26 483.86 130.75 483.86 130.60 483.32 130.09 482.76 130.57 482.20 130.09ZM531.24 130.03 530.79 131.09 531.77 131.69 532.01 131.95 532.10 132.34 530.85 132.38 530.56 132.13 530.56 131.75 530.20 131.75 529.93 132.59 529.93 133.12 530.08 133.57 530.38 133.91 530.85 134.09 531.77 134.09 532.21 133.91 532.57 133.45 532.75 132.73 532.72 131.98 532.57 131.41 532.24 130.78 531.68 130.25ZM519.48 133.34 519.84 133.88 520.34 134.09 521.20 134.03 521.64 133.69 521.82 133.34 522.21 133.88 522.68 134.09 524.72 134.09 525.29 134.00 525.76 133.66 526.41 132.34 526.68 132.07 527.12 131.92 527.45 130.94 526.35 130.88 525.76 130.69 524.99 130.31 524.40 130.22 523.92 130.54 523.57 131.11 523.51 131.47 523.72 131.95 524.01 131.81 523.95 131.56 524.04 131.41 524.57 131.32 525.88 131.98 525.85 132.07 525.49 132.28 525.11 132.34 522.74 132.38 522.50 132.13 522.15 130.03 521.29 130.69 521.55 132.34 520.25 132.34 520.04 132.10 520.04 131.75 519.69 131.75 519.42 132.61ZM513.23 131.98 513.06 132.70 513.11 133.31 513.35 133.75 513.83 134.06 514.83 134.03 515.31 133.66 515.48 133.34 515.63 133.66 516.11 134.03 517.62 134.09 518.12 133.88 518.47 133.39 518.53 131.50 518.42 131.00 518.15 130.51 517.29 131.20 517.73 131.75 517.91 132.16 517.88 132.38 516.40 132.38 516.16 132.19 515.81 130.03 514.92 130.72 515.19 132.38 513.88 132.34 513.71 132.16 513.68 131.75 513.35 131.75ZM477.93 129.94 476.48 130.00 476.07 130.31 475.86 130.81 475.86 132.50 475.95 132.73 476.34 133.03 477.85 133.06 477.85 133.28 477.61 133.51 477.34 133.60 475.89 133.60 475.42 133.48 475.06 133.22 474.91 132.91 474.91 132.53 475.12 132.01 474.50 132.01 474.11 133.03 474.14 133.81 474.50 134.56 475.06 135.01 475.95 135.25 477.19 135.25 477.76 135.07 478.32 134.53 478.56 133.81 478.50 131.98 478.29 131.66 477.91 131.38 476.81 131.29 477.31 130.72 477.96 130.31ZM504.59 129.16 504.08 129.67 504.08 129.79 504.59 130.31 504.70 130.31 505.24 129.67 504.70 129.16ZM537.37 128.69 536.48 129.41 536.21 129.85 536.48 134.09 537.37 133.39 537.46 130.36 537.78 130.12Z"/>
<use href="#fv" x="122.52" y="417.0"/>
<use href="#fv" x="156.36" y="417.0"/>
<use href="#fv" x="190.20" y="417.0"/>
<use href="#fv" x="224.03" y="417.0"/>
<use href="#fv" x="257.87" y="417.0"/>
<use href="#fv" x="291.71" y="417.0"/>
<use href="#fv" x="325.55" y="417.0"/>
<use href="#fv" x="359.39" y="417.0"/>
<use href="#ob" x="390.50" y="402.8"/>
<use href="#ob" x="427.06" y="417.0"/>
<use href="#ob" x="460.90" y="417.0"/>
<use href="#ob" x="494.74" y="417.0"/>
<use href="#ob" x="528.58" y="417.0"/>
<use href="#ob" x="562.41" y="417.0"/>
<use href="#ob" x="596.25" y="417.0"/>
<use href="#ob" x="630.09" y="417.0"/>
<use href="#ob" x="663.93" y="417.0"/>
<use href="#ob" x="697.77" y="417.0"/>
<use href="#ob" x="731.60" y="417.0"/>
<use href="#ob" x="765.44" y="417.0"/>
<use href="#ob" x="799.28" y="417.0"/>
</g>
<g fill="#404040">
<path d="M125.98 396.94 125.52 396.81 125.09 396.88 124.66 397.14 124.14 397.67 123.87 396.84 122.55 398.00 122.95 398.79 123.28 400.11 123.41 401.73 123.38 402.78 124.33 402.02 124.40 399.68 124.70 399.91 125.19 400.08 126.48 400.04 126.88 399.02 125.36 398.96 124.63 398.66 124.33 398.33 124.40 398.03 124.90 397.73 125.26 397.73 125.52 397.87 125.98 398.49 127.11 398.03 126.45 397.24ZM121.56 396.81 120.97 396.81 120.84 397.60 120.37 397.97 119.98 397.97 119.71 397.80 119.42 397.37 119.25 396.84 117.93 397.97 118.23 398.79 118.53 400.11 118.72 402.75 119.68 402.02 119.71 399.71 120.31 399.88 120.84 399.81 121.36 399.38 121.50 399.12Z"/>
<path d="M156.67 396.81 156.64 398.66 156.97 398.69 156.97 402.02 157.10 402.35 157.46 402.68 157.76 402.78 158.32 402.72 158.72 402.39 159.01 402.65 159.38 402.78 160.14 402.65 160.56 402.09 160.70 401.40 160.70 398.10 160.47 397.31 160.17 397.01 159.71 396.84ZM157.69 398.69 159.81 398.69 159.97 398.92 159.90 400.70 159.61 400.94 159.31 400.90 159.05 400.61 159.05 400.04 158.42 400.04 158.39 400.74 158.09 400.94 157.86 400.87 157.69 400.67ZM155.65 396.81 155.05 396.81 154.92 397.60 154.46 397.97 154.06 397.97 153.80 397.80 153.50 397.37 153.34 396.84 152.02 397.97 152.31 398.79 152.61 400.11 152.81 402.75 153.77 402.02 153.80 399.71 154.39 399.88 154.92 399.81 155.45 399.38 155.58 399.12Z"/>
<path d="M193.83 397.07 193.10 396.81 192.60 396.84 192.18 397.01 191.75 397.40 190.46 399.05 190.29 399.42 190.33 399.71 191.32 400.47 190.95 400.84 190.59 401.46 190.26 402.78 191.09 402.78 191.48 402.12 192.04 401.53 193.03 400.90 193.86 400.64 194.62 399.02 192.93 398.96 192.21 398.66 191.91 398.33 191.98 398.03 192.51 397.73 193.07 397.83 193.63 398.49 194.75 398.03ZM189.27 396.81 188.68 396.81 188.55 397.60 188.08 397.97 187.69 397.97 187.42 397.80 187.13 397.37 186.96 396.84 185.64 397.97 185.94 398.79 186.24 400.11 186.43 402.75 187.39 402.02 187.42 399.71 188.02 399.88 188.55 399.81 189.07 399.38 189.21 399.12Z"/>
<path d="M224.12 396.81 224.12 398.96 224.81 399.19 225.34 399.78 225.60 400.31 225.86 401.23 226.03 402.78 226.66 402.78 226.85 401.07 227.25 399.95 227.84 399.22 228.57 398.96 228.57 396.81 227.71 396.94 227.25 397.21 226.89 397.60 226.52 398.49 226.46 399.88 226.36 399.98 226.23 399.81 226.13 398.36 225.70 397.47 224.97 396.94ZM223.13 396.81 222.53 396.81 222.40 397.60 221.94 397.97 221.54 397.97 221.28 397.80 220.98 397.37 220.82 396.84 219.50 397.97 219.79 398.79 220.09 400.11 220.29 402.75 221.24 402.02 221.28 399.71 221.87 399.88 222.40 399.81 222.93 399.38 223.06 399.12Z"/>
<path d="M259.87 396.81 259.77 398.03 259.34 399.52 258.75 400.34 258.45 400.54 257.95 400.64 257.95 402.78 258.38 402.78 258.91 402.62 259.57 402.09 260.00 401.10 260.13 399.65 260.30 399.75 260.30 400.61 260.46 401.40 260.86 402.12 261.48 402.62 261.85 402.75 262.41 402.78 262.41 400.64 261.98 400.57 261.65 400.37 261.15 399.78 260.66 398.39 260.49 396.84ZM256.96 396.81 256.37 396.81 256.24 397.60 255.78 397.97 255.38 397.97 255.12 397.80 254.82 397.37 254.65 396.84 253.33 397.97 253.63 398.79 253.93 400.11 254.13 402.75 255.08 402.02 255.12 399.71 255.71 399.88 256.24 399.81 256.77 399.38 256.90 399.12Z"/>
<path d="M293.08 396.88 292.68 397.07 292.35 397.60 292.32 399.45 292.55 399.85 292.91 400.08 293.74 400.14 293.94 401.53 294.27 402.35 294.60 402.78 295.75 401.63 295.19 401.00 294.96 400.41 294.86 398.30 294.56 397.37 293.90 396.88ZM292.91 397.77 293.05 397.67 293.44 397.73 294.17 398.49 292.98 398.46 292.82 398.20ZM291.30 396.81 290.70 396.81 290.57 397.60 290.11 397.97 289.71 397.97 289.45 397.80 289.15 397.37 288.99 396.84 287.67 397.97 287.96 398.79 288.26 400.11 288.46 402.75 289.42 402.02 289.45 399.71 290.04 399.88 290.57 399.81 291.10 399.38 291.23 399.12Z"/>
<path d="M328.27 400.04 327.35 400.97 327.35 401.17 328.27 402.09 328.44 402.09 329.43 401.17 329.43 400.97 328.53 400.11ZM326.29 396.81 325.70 396.81 325.70 397.57 325.43 397.97 325.14 397.97 324.90 397.70 324.90 396.81 324.31 396.81 324.28 397.77 324.05 397.97 323.72 397.97 323.32 397.67 322.99 396.84 321.67 397.97 322.03 398.99 322.30 400.21 322.46 402.75 323.42 402.02 323.49 399.75 324.05 399.88 324.31 399.78 324.61 399.48 324.94 399.75 325.47 399.81 325.80 399.71 326.06 399.48 326.29 398.76Z"/>
<path d="M362.62 396.84 361.30 397.97 361.70 399.12 361.89 400.08 362.09 402.78 363.05 402.02 363.08 401.66 363.05 398.96 362.88 397.80ZM360.28 396.81 359.68 396.81 359.68 397.57 359.42 397.97 359.12 397.97 358.89 397.70 358.89 396.81 358.30 396.81 358.26 397.77 358.03 397.97 357.70 397.97 357.31 397.67 356.98 396.84 355.66 397.97 356.02 398.99 356.28 400.21 356.45 402.75 357.41 402.02 357.47 399.75 358.03 399.88 358.30 399.78 358.59 399.48 358.92 399.75 359.45 399.81 359.78 399.71 360.05 399.48 360.28 398.76Z"/>
<path d="M408.14 396.84 406.82 397.97 407.21 399.09 407.44 400.21 407.61 402.75 408.50 402.09 408.60 401.89 408.57 398.86 408.37 397.60Z"/>
<path d="M428.88 396.81 428.28 396.81 428.15 397.60 427.69 397.97 427.29 397.97 427.03 397.80 426.73 397.37 426.57 396.84 425.25 397.97 425.54 398.79 425.84 400.11 426.04 402.75 427.00 402.02 427.03 399.71 427.62 399.88 428.15 399.81 428.68 399.38 428.81 399.12Z"/>
<path d="M463.21 396.81 462.62 396.81 462.62 397.57 462.35 397.97 462.06 397.97 461.82 397.70 461.82 396.81 461.23 396.81 461.20 397.77 460.97 397.97 460.64 397.97 460.24 397.67 459.91 396.84 458.59 397.97 458.95 398.99 459.22 400.21 459.38 402.75 460.34 402.02 460.41 399.75 460.97 399.88 461.23 399.78 461.53 399.48 461.86 399.75 462.39 399.81 462.72 399.71 462.98 399.48 463.21 398.76Z"/>
<path d="M495.81 396.91 495.45 396.81 494.92 396.91 494.06 397.67 493.76 396.84 492.48 397.97 492.81 398.66 493.14 399.85 493.30 401.43 493.30 402.75 494.23 402.02 494.29 399.68 494.75 399.98 495.12 400.08 496.37 400.08 496.77 399.02 495.15 398.92 494.49 398.63 494.23 398.30 494.26 398.10 494.46 397.90 494.82 397.73 495.38 397.83 495.91 398.49 497.00 398.03 496.47 397.34Z"/>
<path d="M526.56 396.81 526.56 398.66 526.86 398.69 526.86 401.93 526.99 402.32 527.22 402.59 527.65 402.78 528.15 402.75 528.61 402.39 528.87 402.62 529.30 402.78 529.67 402.78 530.09 402.62 530.46 402.12 530.59 401.60 530.59 397.97 530.36 397.27 530.13 397.04 529.63 396.84ZM527.59 398.69 529.73 398.69 529.86 398.86 529.80 400.74 529.50 400.94 529.20 400.90 528.94 400.57 528.94 400.04 528.35 400.04 528.35 400.61 528.25 400.80 528.02 400.94 527.72 400.84 527.59 400.61Z"/>
<path d="M563.77 397.11 563.01 396.81 562.12 396.98 561.72 397.31 560.37 399.02 560.20 399.35 560.24 399.75 561.19 400.47 560.80 400.90 560.50 401.43 560.24 402.22 560.17 402.78 561.00 402.78 561.42 402.06 561.99 401.50 562.71 401.00 563.77 400.61 564.49 399.02 562.71 398.92 562.05 398.63 561.79 398.26 562.02 397.90 562.38 397.73 562.94 397.83 563.54 398.49 564.66 398.03Z"/>
<path d="M594.04 396.81 594.04 398.99 594.67 399.15 595.23 399.75 595.76 401.17 595.96 402.78 596.55 402.78 596.71 401.30 597.18 399.91 597.70 399.25 598.10 399.02 598.46 398.99 598.46 396.81 597.54 396.98 596.85 397.54 596.45 398.43 596.35 399.91 596.25 399.98 596.15 399.91 596.05 398.43 595.66 397.54 594.97 396.98Z"/>
<path d="M629.79 396.81 629.56 398.59 629.23 399.55 628.61 400.37 628.28 400.57 627.88 400.64 627.88 402.78 628.67 402.68 629.20 402.39 629.53 402.02 629.93 401.03 630.06 399.65 630.19 399.71 630.32 401.23 630.72 402.06 631.11 402.45 631.54 402.68 632.30 402.78 632.30 400.64 631.61 400.41 631.08 399.81 630.59 398.46 630.39 396.81Z"/>
<path d="M663.00 396.88 662.51 397.14 662.25 397.64 662.25 399.52 662.74 400.04 663.63 400.14 663.86 401.60 664.16 402.32 664.49 402.78 665.64 401.63 665.12 401.03 664.89 400.47 664.75 398.20 664.49 397.40 663.90 396.91ZM662.77 397.83 662.94 397.67 663.30 397.70 664.06 398.49 663.00 398.53 662.74 398.26Z"/>
<path d="M699.10 400.04 698.15 400.97 698.15 401.17 699.04 402.06 699.24 402.09 700.23 401.17 700.23 400.97 699.30 400.08ZM696.63 396.84 695.31 397.97 695.70 399.09 695.94 400.21 696.10 402.75 696.99 402.09 697.09 401.89 697.06 398.86 696.86 397.60Z"/>
<path d="M733.42 396.84 732.10 397.97 732.66 399.81 732.92 402.75 733.88 401.93 733.88 399.19 733.72 397.90ZM730.61 396.84 729.29 397.97 729.69 399.09 729.92 400.21 730.09 402.75 730.98 402.09 731.08 401.89 731.04 398.86 730.85 397.60Z"/>
<path d="M763.55 396.84 762.23 397.97 762.62 399.09 762.85 400.21 763.02 402.75 763.91 402.09 764.01 401.89 763.97 398.86 763.78 397.60ZM768.66 396.81 768.07 396.81 768.03 397.37 767.90 397.67 767.47 397.97 767.08 397.97 766.78 397.77 766.52 397.37 766.35 396.84 765.03 397.97 765.39 399.02 765.66 400.31 765.82 402.75 766.78 402.02 766.81 399.71 767.41 399.88 767.93 399.81 768.46 399.38 768.59 399.12Z"/>
<path d="M796.89 396.84 795.57 397.97 795.96 399.09 796.20 400.21 796.36 402.75 797.25 402.09 797.35 401.89 797.32 398.86 797.12 397.60ZM802.99 396.81 802.40 396.81 802.40 397.60 802.14 397.97 801.84 397.97 801.61 397.70 801.61 396.81 801.01 396.81 801.01 397.64 800.75 397.97 800.42 397.97 800.02 397.67 799.69 396.84 798.37 397.97 798.70 398.86 798.97 400.01 799.20 402.75 800.12 402.02 800.19 399.75 800.75 399.88 801.01 399.78 801.31 399.48 801.64 399.75 802.17 399.81 802.50 399.71 802.76 399.48 802.99 398.79Z"/>
</g>
</svg>
<div class="yl" style="top:381.70px">0</div>
<div class="yl" style="top:349.53px">200</div>
<div class="yl" style="top:317.37px">400</div>
<div class="yl" style="top:285.20px">600</div>
<div class="yl" style="top:253.04px">800</div>
<div class="yl" style="top:220.87px">1000</div>
<div class="yl" style="top:188.71px">1200</div>
<div class="yl" style="top:156.54px">1400</div>
</body></html>
